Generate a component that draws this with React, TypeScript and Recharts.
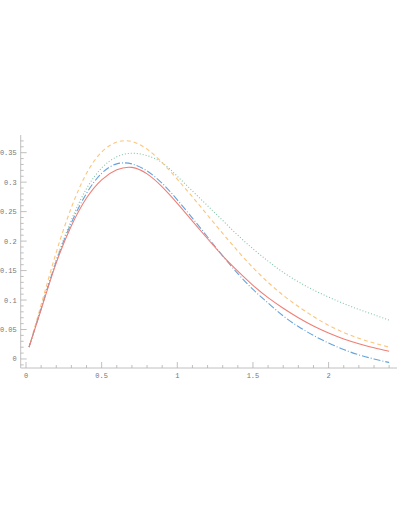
import { LineChart, Line, XAxis, YAxis } from 'recharts'

const xs = [0.02, 0.1, 0.2, 0.3, 0.4, 0.5, 0.6, 0.7, 0.8, 0.9, 1.0, 1.1, 1.2, 1.3, 1.4, 1.5, 1.6, 1.7, 1.8, 1.9, 2.0, 2.1, 2.2, 2.3, 2.4]
const redVals = [0.02, 0.084, 0.163, 0.226, 0.273, 0.304, 0.321, 0.325, 0.314, 0.292, 0.264, 0.234, 0.204, 0.175, 0.149, 0.125, 0.104, 0.086, 0.07, 0.056, 0.044, 0.034, 0.026, 0.019, 0.013]
const blueVals = [0.02, 0.085, 0.166, 0.231, 0.281, 0.315, 0.331, 0.331, 0.319, 0.298, 0.27, 0.239, 0.207, 0.175, 0.145, 0.118, 0.095, 0.073, 0.055, 0.04, 0.027, 0.016, 0.007, 0.0, -0.006]
const orangeVals = [0.02, 0.092, 0.181, 0.257, 0.315, 0.351, 0.368, 0.369, 0.356, 0.333, 0.305, 0.275, 0.244, 0.213, 0.183, 0.155, 0.13, 0.108, 0.089, 0.072, 0.057, 0.045, 0.035, 0.027, 0.02]
const greenVals = [0.02, 0.088, 0.168, 0.236, 0.289, 0.324, 0.343, 0.349, 0.345, 0.333, 0.31, 0.285, 0.26, 0.235, 0.21, 0.187, 0.166, 0.147, 0.131, 0.117, 0.105, 0.094, 0.084, 0.075, 0.066]

const xMajor = [0, 0.5, 1, 1.5, 2]
const xLabels = ['0', '0.5', '1', '1.5', '2']
const yMajor = [0, 0.05, 0.1, 0.15, 0.2, 0.25, 0.3, 0.35]
const yLabels = ['0', '0.05', '0.1', '0.15', '0.2', '0.25', '0.3', '0.35']

const X_DOMAIN: [number, number] = [-0.035, 2.452]
const Y_DOMAIN: [number, number] = [-0.0153, 0.38]

// minor ticks between the majors (frame decoration)
const minors = (from: number, to: number, step: number) => {
  const out: number[] = []
  for (let i = Math.round(from / step); i * step <= to + 1e-9; i++) out.push(+(i * step).toFixed(4))
  return out
}
const xTicks = minors(0, 2.4, 0.1)
const yTicks = minors(-0.01, 0.37, 0.01)

const data = xs.map((x, i) => ({ x, red: redVals[i], blue: blueVals[i], orange: orangeVals[i], green: greenVals[i] }))

const FRAME = '#b0b0b0'
const LABEL = '#777'
const FONT = '"Liberation Mono", "DejaVu Sans Mono", monospace'

const isMajor = (v: number, majors: number[]) => majors.findIndex(m => Math.abs(m - v) < 1e-6)

function makeTick(side: 'bottom' | 'top' | 'left' | 'right') {
  return (props: any) => {
    const { x, y, payload } = props
    const v = payload.value
    const horiz = side === 'bottom' || side === 'top'
    const majors = horiz ? xMajor : yMajor
    const labels = horiz ? xLabels : yLabels
    const mi = isMajor(v, majors)
    const len = mi >= 0 ? 6 : 3
    let line
    if (side === 'bottom') line = <line x1={x} y1={y} x2={x} y2={y - len} stroke={FRAME} strokeWidth={0.8} />
    else if (side === 'top') line = <line x1={x} y1={y} x2={x} y2={y + len} stroke={FRAME} strokeWidth={0.8} />
    else if (side === 'left') line = <line x1={x} y1={y} x2={x + len} y2={y} stroke={FRAME} strokeWidth={0.8} />
    else line = <line x1={x} y1={y} x2={x - len} y2={y} stroke={FRAME} strokeWidth={0.8} />
    return (
      <g>
        {line}
        {mi >= 0 && side === 'bottom' && (
          <text x={x} y={y + 10} textAnchor="middle" fontSize={7} fontFamily={FONT} fill={LABEL}>{labels[mi]}</text>
        )}
        {mi >= 0 && side === 'left' && (
          <text x={x - 4} y={y + 2.5} textAnchor="end" fontSize={7} fontFamily={FONT} fill={LABEL}>{labels[mi]}</text>
        )}
      </g>
    )
  }
}

export default function App() {
  return (
    <div style={{ position: 'absolute', left: 0, top: 0, width: 398, height: 515, background: '#fff' }}>
      <LineChart width={398} height={515} data={data} margin={{ top: 135, right: 1, left: 0, bottom: 0 }}>
        <XAxis xAxisId="b" dataKey="x" type="number" domain={X_DOMAIN} allowDataOverflow ticks={xTicks} interval={0}
          height={147} tickSize={0} tickMargin={0} tickLine={false} axisLine={{ stroke: FRAME, strokeWidth: 0.8 }} tick={makeTick('bottom')} />
        <XAxis xAxisId="t" orientation="top" dataKey="x" type="number" domain={X_DOMAIN} allowDataOverflow ticks={xTicks} interval={0}
          height={0} tickSize={0} tickMargin={0} tickLine={false} axisLine={{ stroke: FRAME, strokeWidth: 0.8 }} tick={makeTick('top')} />
        <YAxis yAxisId="l" type="number" domain={Y_DOMAIN} allowDataOverflow ticks={yTicks} interval={0}
          width={20.7} tickSize={0} tickMargin={0} tickLine={false} axisLine={{ stroke: FRAME, strokeWidth: 0.8 }} tick={makeTick('left')} />
        <YAxis yAxisId="r" orientation="right" type="number" domain={Y_DOMAIN} allowDataOverflow ticks={yTicks} interval={0}
          width={0} tickSize={0} tickMargin={0} tickLine={false} axisLine={{ stroke: FRAME, strokeWidth: 0.8 }} tick={makeTick('right')} />
        <Line xAxisId="b" yAxisId="l" type="natural" dataKey="green" stroke="#84c4a4" strokeWidth={1.1} strokeDasharray="1 2" dot={false} isAnimationActive={false} />
        <Line xAxisId="b" yAxisId="l" type="natural" dataKey="orange" stroke="#fcc47c" strokeWidth={1.1} strokeDasharray="4 3" dot={false} isAnimationActive={false} />
        <Line xAxisId="b" yAxisId="l" type="natural" dataKey="blue" stroke="#64a3dc" strokeWidth={1.1} strokeDasharray="7 2 1 2" dot={false} isAnimationActive={false} />
        <Line xAxisId="b" yAxisId="l" type="natural" dataKey="red" stroke="#ef7f76" strokeWidth={1.1} dot={false} isAnimationActive={false} />
      </LineChart>
    </div>
  )
}
